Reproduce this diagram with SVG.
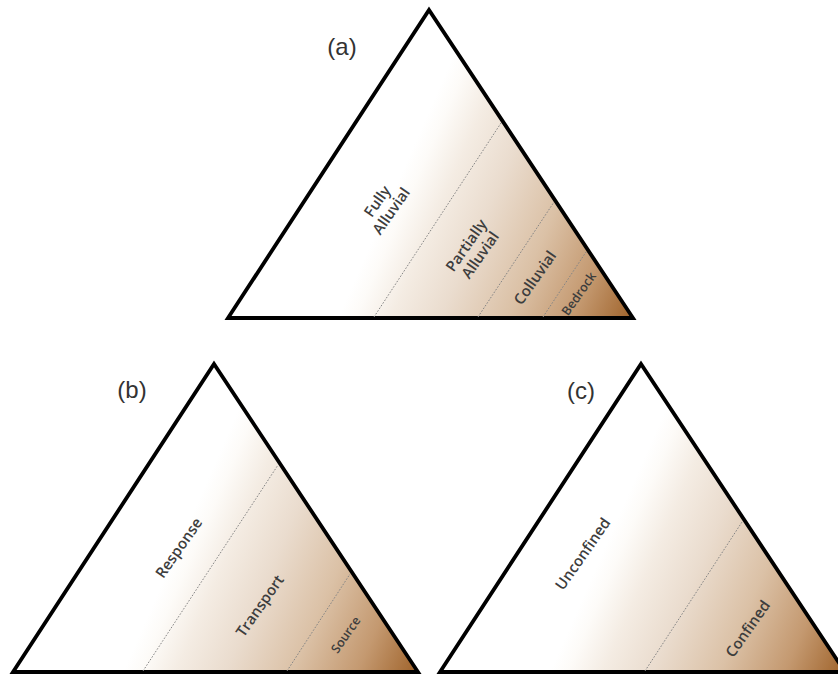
<svg xmlns="http://www.w3.org/2000/svg" width="838" height="677" viewBox="0 0 838 677">
<style>
.tri{stroke:#000;stroke-width:3.8;stroke-linejoin:miter;fill:url(#g)}
.dash{stroke:#858585;stroke-width:1;stroke-dasharray:1.6 1.6;fill:none}
.lbl{font-family:"Open Sans","Liberation Sans",sans-serif;font-size:15px;font-weight:600;fill:#3d3d3d;text-anchor:middle}
.small{font-size:12.5px}
.pan{font-family:"Liberation Sans",Arial,sans-serif;font-size:24px;fill:#333;text-anchor:middle}
</style>
<defs>
<linearGradient id="g" gradientUnits="userSpaceOnUse" x1="110" y1="308" x2="356" y2="416">
<stop offset="0" stop-color="#ffffff"/>
<stop offset="0.06" stop-color="#fdfbf8"/>
<stop offset="0.18" stop-color="#f4ece3"/>
<stop offset="0.35" stop-color="#eadcce"/>
<stop offset="0.58" stop-color="#dbc1a6"/>
<stop offset="0.8" stop-color="#c49970"/>
<stop offset="1" stop-color="#a0642c"/>
</linearGradient>
</defs>
<rect width="838" height="677" fill="#fff"/>
<g id="triangle-a">
<g transform="translate(228,10)">
<polygon class="tri" points="0,308 201,0 405,308"/>
</g>
<text class="pan" x="342" y="55">(a)</text>
<text class="lbl" transform="translate(384,206) rotate(-55)"><tspan x="0" y="-3">Fully</tspan><tspan x="0" dy="17">Alluvial</tspan></text>
<text class="lbl" transform="translate(473,250) rotate(-55)"><tspan x="0" y="-3">Partially</tspan><tspan x="0" dy="17">Alluvial</tspan></text>
<text class="lbl" transform="translate(535,278) rotate(-55)" y="5">Colluvial</text>
<text class="lbl small" transform="translate(579,294) rotate(-55)" y="4">Bedrock</text>
</g>
<g id="triangle-b">
<g transform="translate(13,364)">
<polygon class="tri" points="0,308 201,0 405,308"/>
</g>
<text class="pan" x="132" y="398">(b)</text>
<text class="lbl" transform="translate(179,548) rotate(-55)" y="5">Response</text>
<text class="lbl" transform="translate(260,606) rotate(-55)" y="5">Transport</text>
<text class="lbl small" transform="translate(346,635) rotate(-55)" y="4">Source</text>
</g>
<g id="triangle-c">
<g transform="translate(440,364)">
<polygon class="tri" points="0,308 201,0 405,308"/>
</g>
<text class="pan" x="581" y="399">(c)</text>
<text class="lbl" transform="translate(583,554) rotate(-55)" y="5">Unconfined</text>
<text class="lbl" transform="translate(748,629) rotate(-55)" y="5">Confined</text>
</g>
<g id="connectors">
<g transform="translate(228,10)">
<line class="dash" x1="146" y1="307" x2="273" y2="113"/>
<line class="dash" x1="250" y1="307" x2="326" y2="192"/>
<line class="dash" x1="315" y1="307" x2="358" y2="242"/>
</g>
<g transform="translate(13,364)">
<line class="dash" x1="130" y1="307" x2="265" y2="101"/>
<line class="dash" x1="274" y1="307" x2="337" y2="210"/>
</g>
<g transform="translate(440,364)">
<line class="dash" x1="205" y1="307" x2="302" y2="158"/>
</g>
</g>
</svg>
